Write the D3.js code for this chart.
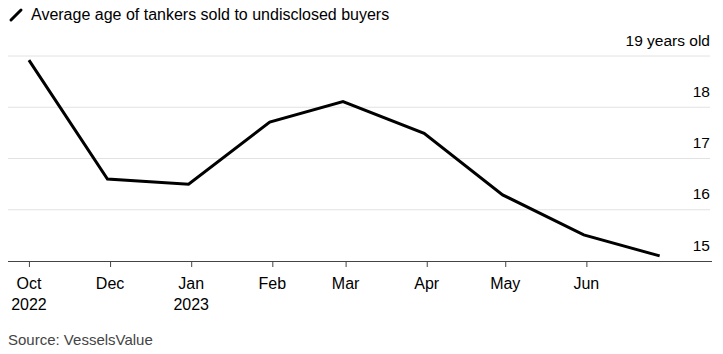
<!DOCTYPE html>
<html>
<head>
<meta charset="utf-8">
<script src="https://cdn.jsdelivr.net/npm/d3@7"></script>
<style>
  body { margin: 0; background: #fff; }
  svg text { font-family: "Liberation Sans", Arial, sans-serif; }
</style>
</head>
<body>
<div id="chart"></div>
<script>
const title = 'Average age of tankers sold to undisclosed buyers';
const unitLabel = 'years old';
const source = 'Source: VesselsValue';

// monthly readings (month-end dates)
const dates = ['2022-10-31', '2022-11-30', '2022-12-31', '2023-01-31', '2023-02-28',
  '2023-03-31', '2023-04-30', '2023-05-31', '2023-06-29'];
const ages = [18.92, 16.6, 16.5, 17.71, 18.11, 17.49, 16.29, 15.51, 15.1];

const tickDates = ['2022-10-31', '2022-12-01', '2023-01-01', '2023-02-01', '2023-03-01',
  '2023-04-01', '2023-05-01', '2023-06-01'];
const tickLabels = [['Oct', '2022'], ['Dec'], ['Jan', '2023'], ['Feb'], ['Mar'], ['Apr'], ['May'], ['Jun']];
const yTicks = [15, 16, 17, 18, 19];

const width = 723, height = 354;
const parse = d3.utcParse('%Y-%m-%d');
const data = dates.map((d, i) => ({ date: parse(d), value: ages[i] }));

const svg = d3.select('#chart').append('svg')
  .attr('width', width)
  .attr('height', height);

const x = d3.scaleUtc()
  .domain([parse('2022-10-23'), parse('2023-07-19')])
  .range([8, 712]);

const y = d3.scaleLinear()
  .domain([15, 19])
  .range([261, 56]);

// title with slash icon
svg.append('line')
  .attr('x1', 11).attr('y1', 20).attr('x2', 21).attr('y2', 10)
  .attr('stroke', '#000').attr('stroke-width', 3).attr('stroke-linecap', 'round');
svg.append('text')
  .attr('x', 31).attr('y', 20)
  .attr('font-size', 16)
  .attr('fill', '#000')
  .text(title);

// gridlines
svg.append('g')
  .selectAll('line')
  .data(yTicks.filter(d => d > 15))
  .join('line')
  .attr('x1', 8).attr('x2', 710)
  .attr('y1', d => y(d)).attr('y2', d => y(d))
  .attr('stroke', '#e2e2e2')
  .attr('stroke-width', 1);

// y labels (right side, above gridlines)
svg.append('g')
  .selectAll('text')
  .data(yTicks)
  .join('text')
  .attr('x', 710)
  .attr('y', d => y(d) - 10.5)
  .attr('text-anchor', 'end')
  .attr('font-size', 15.5)
  .attr('fill', '#000')
  .text(d => d === 19 ? `${d} ${unitLabel}` : d);

// x axis
const xAxis = svg.append('g')
  .attr('transform', `translate(0,${y(15)})`)
  .call(d3.axisBottom(x)
    .tickValues(tickDates.map(parse))
    .tickSize(6)
    .tickSizeOuter(0)
    .tickFormat(''));
xAxis.select('.domain').attr('stroke', '#444').attr('d', 'M8,0.5H712');
xAxis.selectAll('.tick line').attr('stroke', '#444');

const labels = svg.append('g')
  .selectAll('text')
  .data(tickDates)
  .join('text')
  .attr('x', d => x(parse(d)))
  .attr('y', 289)
  .attr('text-anchor', 'middle')
  .attr('font-size', 16)
  .attr('fill', '#000');
labels.each(function (d, i) {
  const t = d3.select(this);
  tickLabels[i].forEach((s, j) => {
    t.append('tspan')
      .attr('x', x(parse(d)))
      .attr('dy', j === 0 ? 0 : 21)
      .text(s);
  });
});

// line
svg.append('path')
  .datum(data)
  .attr('fill', 'none')
  .attr('stroke', '#000')
  .attr('stroke-width', 3)
  .attr('stroke-linejoin', 'miter')
  .attr('d', d3.line().x(d => x(d.date)).y(d => y(d.value)));

svg.append('text')
  .attr('x', 8).attr('y', 345)
  .attr('font-size', 15)
  .attr('fill', '#444')
  .text(source);
</script>
</body>
</html>
